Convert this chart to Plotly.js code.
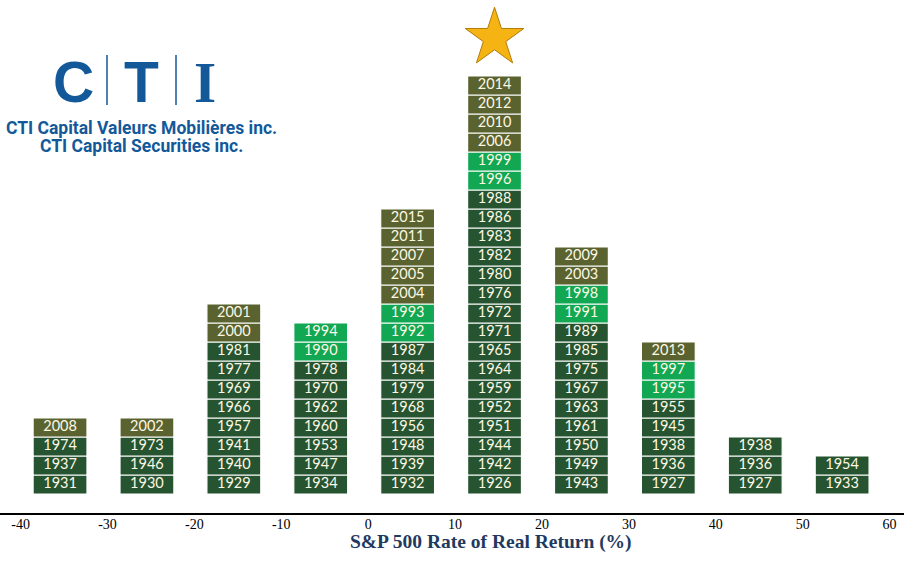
<!DOCTYPE html>
<html><head><meta charset="utf-8">
<script src="https://cdn.plot.ly/plotly-3.0.1.min.js"></script>
<style>html,body{margin:0;padding:0;background:#fff}</style>
</head><body><div id="chart" style="width:904px;height:565px"></div>
<script>
// Bin centres of the S&P 500 real-return histogram (%)
const binCenters = [-35, -25, -15, -5, 5, 15, 25, 35, 45, 55];
// Years in each bin, bottom to top
const binYears = [
  ["1931","1937","1974","2008"],
  ["1930","1946","1973","2002"],
  ["1929","1940","1941","1957","1966","1969","1977","1981","2000","2001"],
  ["1934","1947","1953","1960","1962","1970","1978","1990","1994"],
  ["1932","1939","1948","1956","1968","1979","1984","1987","1992","1993","2004","2005","2007","2011","2015"],
  ["1926","1942","1944","1951","1952","1959","1964","1965","1971","1972","1976","1980","1982","1983","1986","1988","1996","1999","2006","2010","2012","2014"],
  ["1943","1949","1950","1961","1963","1967","1975","1985","1989","1991","1998","2003","2009"],
  ["1927","1936","1938","1945","1955","1995","1997","2013"],
  ["1927","1936","1938"],
  ["1933","1954"]
];
// Box category per year: D = dark green, B = bright green, O = olive
const binKinds = [
  ["D","D","D","O"],
  ["D","D","D","O"],
  ["D","D","D","D","D","D","D","D","O","O"],
  ["D","D","D","D","D","D","D","B","B"],
  ["D","D","D","D","D","D","D","D","B","B","O","O","O","O","O"],
  ["D","D","D","D","D","D","D","D","D","D","D","D","D","D","D","D","B","B","O","O","O","O"],
  ["D","D","D","D","D","D","D","D","D","B","B","O","O"],
  ["D","D","D","D","D","B","B","O"],
  ["D","D","D"],
  ["D","D"]
];
const tickValues = [-40, -30, -20, -10, 0, 10, 20, 30, 40, 50, 60];
const xTitle = "S&P 500 Rate of Real Return (%)";

const kindColors = {D: "#265430", B: "#11a753", O: "#5a632f"};
const traces = [];
["D","B","O"].forEach(k => {
  const x = [], base = [], y = [];
  binYears.forEach((yrs, i) => yrs.forEach((yr, r) => {
    if (binKinds[i][r] === k) { x.push(binCenters[i]); base.push(r); y.push(1); }
  }));
  traces.push({type: "bar", x: x, y: y, base: base, width: 6.2,
    marker: {color: kindColors[k], line: {color: "#ffffff", width: 1.2}},
    hoverinfo: "skip", showlegend: false});
});
const tx = [], ty = [], tt = [];
binYears.forEach((yrs, i) => yrs.forEach((yr, r) => { tx.push(binCenters[i]); ty.push(r + 0.5); tt.push(yr); }));
traces.push({type: "scatter", mode: "text", x: tx, y: ty, text: tt,
  textfont: {family: "Lato, 'Liberation Sans', sans-serif", size: 14.5, color: "#fdf8e4"},
  hoverinfo: "skip", showlegend: false});
// star over the tallest bin
const counts = binYears.map(a => a.length);
const maxI = counts.indexOf(Math.max(...counts));
traces.push({type: "scatter", mode: "markers", x: [binCenters[maxI]], y: [counts[maxI] + 2],
  marker: {symbol: "star", size: 44, color: "#f5b414", line: {color: "#b07d08", width: 1}},
  hoverinfo: "skip", showlegend: false});

const W = 904, PH = 513;
const px = v => v / W;
const py = v => 1 - v / PH;
const blue = "#13599a";
const ann = (text, x, y, fam, size, color) => ({text: text, x: px(x), y: py(y), xref: "paper", yref: "paper",
  xanchor: "center", yanchor: "middle", showarrow: false,
  font: {family: fam, size: size, color: color || blue}});
const layout = {
  width: 904, height: 565,
  margin: {l: 0, r: 0, t: 0, b: 52},
  paper_bgcolor: "#ffffff", plot_bgcolor: "#ffffff",
  barmode: "overlay",
  xaxis: {range: [-41.91, 62.12], tickvals: tickValues, ticktext: tickValues.map(String),
    automargin: false,
    showgrid: false, zeroline: false, showline: true, linecolor: "#000000", linewidth: 1.5,
    ticks: "", ticklabelshift: 4, ticklabelstandoff: -2,
    tickfont: {family: "'Liberation Serif', serif", size: 14, color: "#000000"}},
  yaxis: {range: [-1, 26], visible: false, showgrid: false, zeroline: false, automargin: false},
  annotations: [
    ann("<b>" + xTitle + "</b>", 491, 542, "'Liberation Serif', serif", 19.5, "#1f3a60"),
    ann("<b>C</b>", 73, 82, "'Liberation Sans', sans-serif", 57),
    ann("<b>T</b>", 141, 82, "'Liberation Sans', sans-serif", 57),
    ann("<b>I</b>", 205, 82, "'Liberation Serif', serif", 57),
    ann("<b>CTI Capital Valeurs Mobilières inc.</b>", 141, 128, "Roboto, sans-serif", 17.5),
    ann("<b>CTI Capital Securities inc.</b>", 141, 146, "Roboto, sans-serif", 17.5)
  ],
  shapes: [
    {type: "line", xref: "paper", yref: "paper", x0: px(107), x1: px(107), y0: py(55), y1: py(105),
      line: {color: blue, width: 1.5}},
    {type: "line", xref: "paper", yref: "paper", x0: px(176), x1: px(176), y0: py(55), y1: py(105),
      line: {color: blue, width: 1.5}}
  ]
};
Plotly.newPlot("chart", traces, layout, {displayModeBar: false, staticPlot: true});
</script></body></html>
